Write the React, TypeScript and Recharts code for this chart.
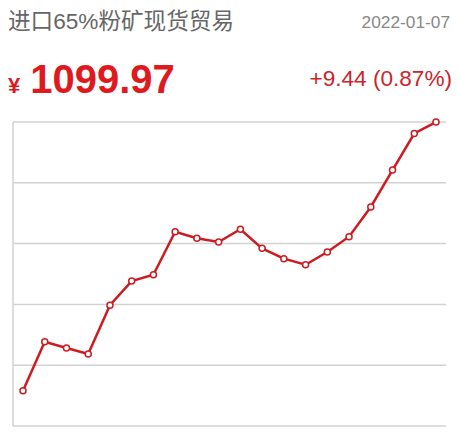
import React from 'react';
import { LineChart, Line, XAxis, YAxis, CartesianGrid } from 'recharts';

const dates = [
  'd01','d02','d03','d04','d05','d06','d07','d08','d09','d10',
  'd11','d12','d13','d14','d15','d16','d17','d18','d19','d20',
];
const prices = [
  879.0, 919.3, 914.1, 909.2, 949.3, 969.2, 974.4, 1009.8, 1004.4, 1001.3,
  1011.8, 996.1, 987.6, 982.6, 993.1, 1005.7, 1030.1, 1060.5, 1090.53, 1099.97,
];
const yTicks = [850, 900, 950, 1000, 1050, 1100];

const title = '进口65%粉矿现货贸易';
const dateLabel = '2022-01-07';
const priceLabel = '1099.97';
const changeLabel = '+9.44 (0.87%)';

const data = dates.map((d, i) => ({ d, v: prices[i] }));

const EmptyTick = () => <g />;

export default function App() {
  const font = 'Arial, "Liberation Sans", "Noto Sans CJK SC", sans-serif';
  return (
    <div style={{ position: 'absolute', left: 0, top: 0, width: 459, height: 444, background: '#fff', fontFamily: font }}>
      <div style={{ position: 'absolute', left: 8, top: 7, fontSize: 22.6, color: '#666', whiteSpace: 'nowrap', lineHeight: '30px' }}>{title}</div>
      <div style={{ position: 'absolute', right: 9, top: 9, fontSize: 17.3, color: '#888', lineHeight: '26px' }}>{dateLabel}</div>
      <div style={{ position: 'absolute', left: 8, top: 54, color: '#de1a1f', fontWeight: 'bold', whiteSpace: 'nowrap', lineHeight: '50px' }}>
        <span style={{ fontSize: 22 }}>¥</span>
        <span style={{ fontSize: 40, marginLeft: 10 }}>{priceLabel}</span>
      </div>
      <div style={{ position: 'absolute', right: 7, top: 65, fontSize: 22.6, color: '#c9252c', whiteSpace: 'nowrap', lineHeight: '28px' }}>{changeLabel}</div>
      <div style={{ position: 'absolute', left: 0, top: 0 }}>
        <LineChart width={459} height={444} data={data} margin={{ top: 122, right: 13, bottom: 18, left: 12 }}>
          <CartesianGrid vertical={false} stroke="#d2d2d2" strokeWidth={1.5} />
          <XAxis dataKey="d" hide padding={{ left: 10, right: 10 }} />
          <YAxis width={1} domain={[850, 1100]} ticks={yTicks} tick={<EmptyTick />} tickLine={false} axisLine={{ stroke: '#d2d2d2', strokeWidth: 1.5 }} />
          <Line
            type="linear"
            dataKey="v"
            stroke="#cc1c22"
            strokeWidth={2.5}
            dot={{ r: 3, fill: '#fff', stroke: '#cc1c22', strokeWidth: 1.5 }}
            isAnimationActive={false}
          />
        </LineChart>
      </div>
    </div>
  );
}
